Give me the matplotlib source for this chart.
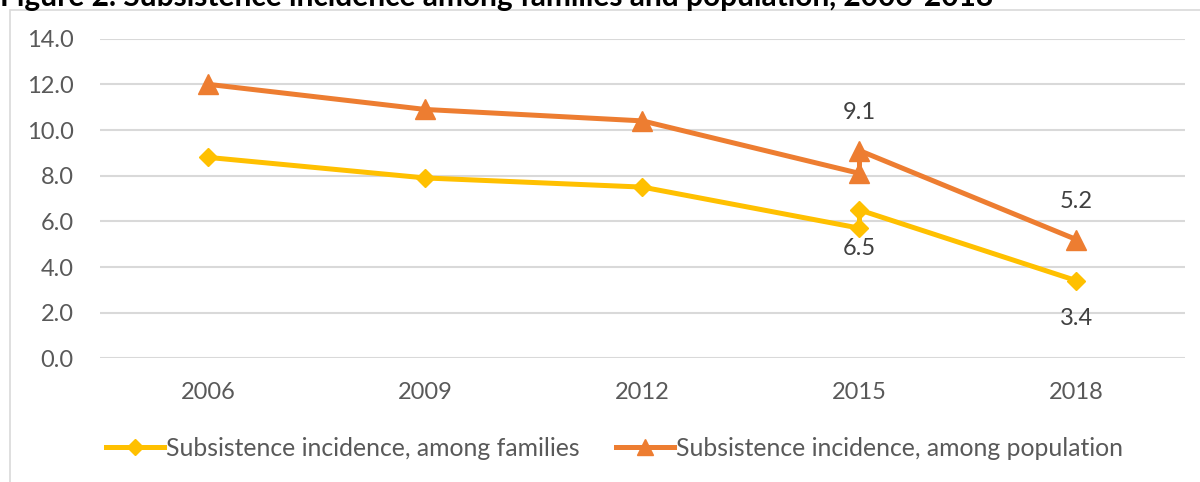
import matplotlib.pyplot as plt
from matplotlib.patches import Rectangle

plt.rcParams['font.family'] = ['Lato', 'DejaVu Sans']

# data (2015 has two values for each series)
years = [2006, 2009, 2012, 2015, 2015, 2018]
families = [8.8, 7.9, 7.5, 5.7, 6.5, 3.4]
population = [12.0, 10.9, 10.4, 8.1, 9.1, 5.2]
year_ticks = [2006, 2009, 2012, 2015, 2018]
y_ticks = [0, 2, 4, 6, 8, 10, 12, 14]

fam_label = "Subsistence incidence, among families"
pop_label = "Subsistence incidence, among population"
title = "Figure 2. Subsistence incidence among families and population, 2006-2018"

# which points get a data label, and above (+) or below (-)
fam_labels = {4: -1, 5: -1}
pop_labels = {4: 1, 5: 1}

fig = plt.figure(figsize=(12, 4.82), dpi=100)
ax = fig.add_axes([0.0833, 0.2566, 0.9042, 0.6631])

ax.plot(years, families, color='#FFC000', lw=3.6, marker='D', ms=9.5,
        label=fam_label, solid_joinstyle='round')
ax.plot(years, population, color='#ED7D31', lw=3.6, marker='^', ms=14,
        label=pop_label, solid_joinstyle='round')

for i, d in fam_labels.items():
    ax.annotate(f"{families[i]:.1f}", (years[i], families[i]), xytext=(0, 27.5 * d),
                textcoords='offset points', ha='center', va='center',
                fontsize=17, color='#404040')
for i, d in pop_labels.items():
    ax.annotate(f"{population[i]:.1f}", (years[i], population[i]), xytext=(0, 27.5 * d),
                textcoords='offset points', ha='center', va='center',
                fontsize=17, color='#404040')

ax.set_xlim(2004.5, 2019.5)
ax.set_ylim(0, 14)
ax.set_xticks(year_ticks)
ax.set_xticklabels([str(y) for y in year_ticks])
ax.set_yticks(y_ticks)
ax.set_yticklabels([f"{v:.1f}" for v in y_ticks])
ax.tick_params(length=0, labelsize=17, labelcolor='#595959')
ax.tick_params(axis='x', pad=17)
ax.tick_params(axis='y', pad=19)
ax.grid(axis='y', color='#D9D9D9', lw=1.5)
ax.set_axisbelow(True)
for s in ax.spines.values():
    s.set_visible(False)

leg = fig.legend(loc='center', bbox_to_anchor=(0.512, 0.07), ncol=2, frameon=False,
                 fontsize=17.8, handlelength=2.35, columnspacing=1.5, handletextpad=0.05,
                 labelcolor='#595959', markerscale=0.85)

# outer chart border, running off the right and bottom edges
fig.patches.append(Rectangle((10 / 1200, -0.1), 1.2, 0.1 + (482 - 10) / 482,
                             transform=fig.transFigure, fill=False,
                             edgecolor='#D9D9D9', lw=1.2))

fig.text(0.0, (482 - 6) / 482, title, fontsize=21.5, fontweight='bold',
         color='black', ha='left', va='baseline')

fig.savefig('out.png', dpi=100)
